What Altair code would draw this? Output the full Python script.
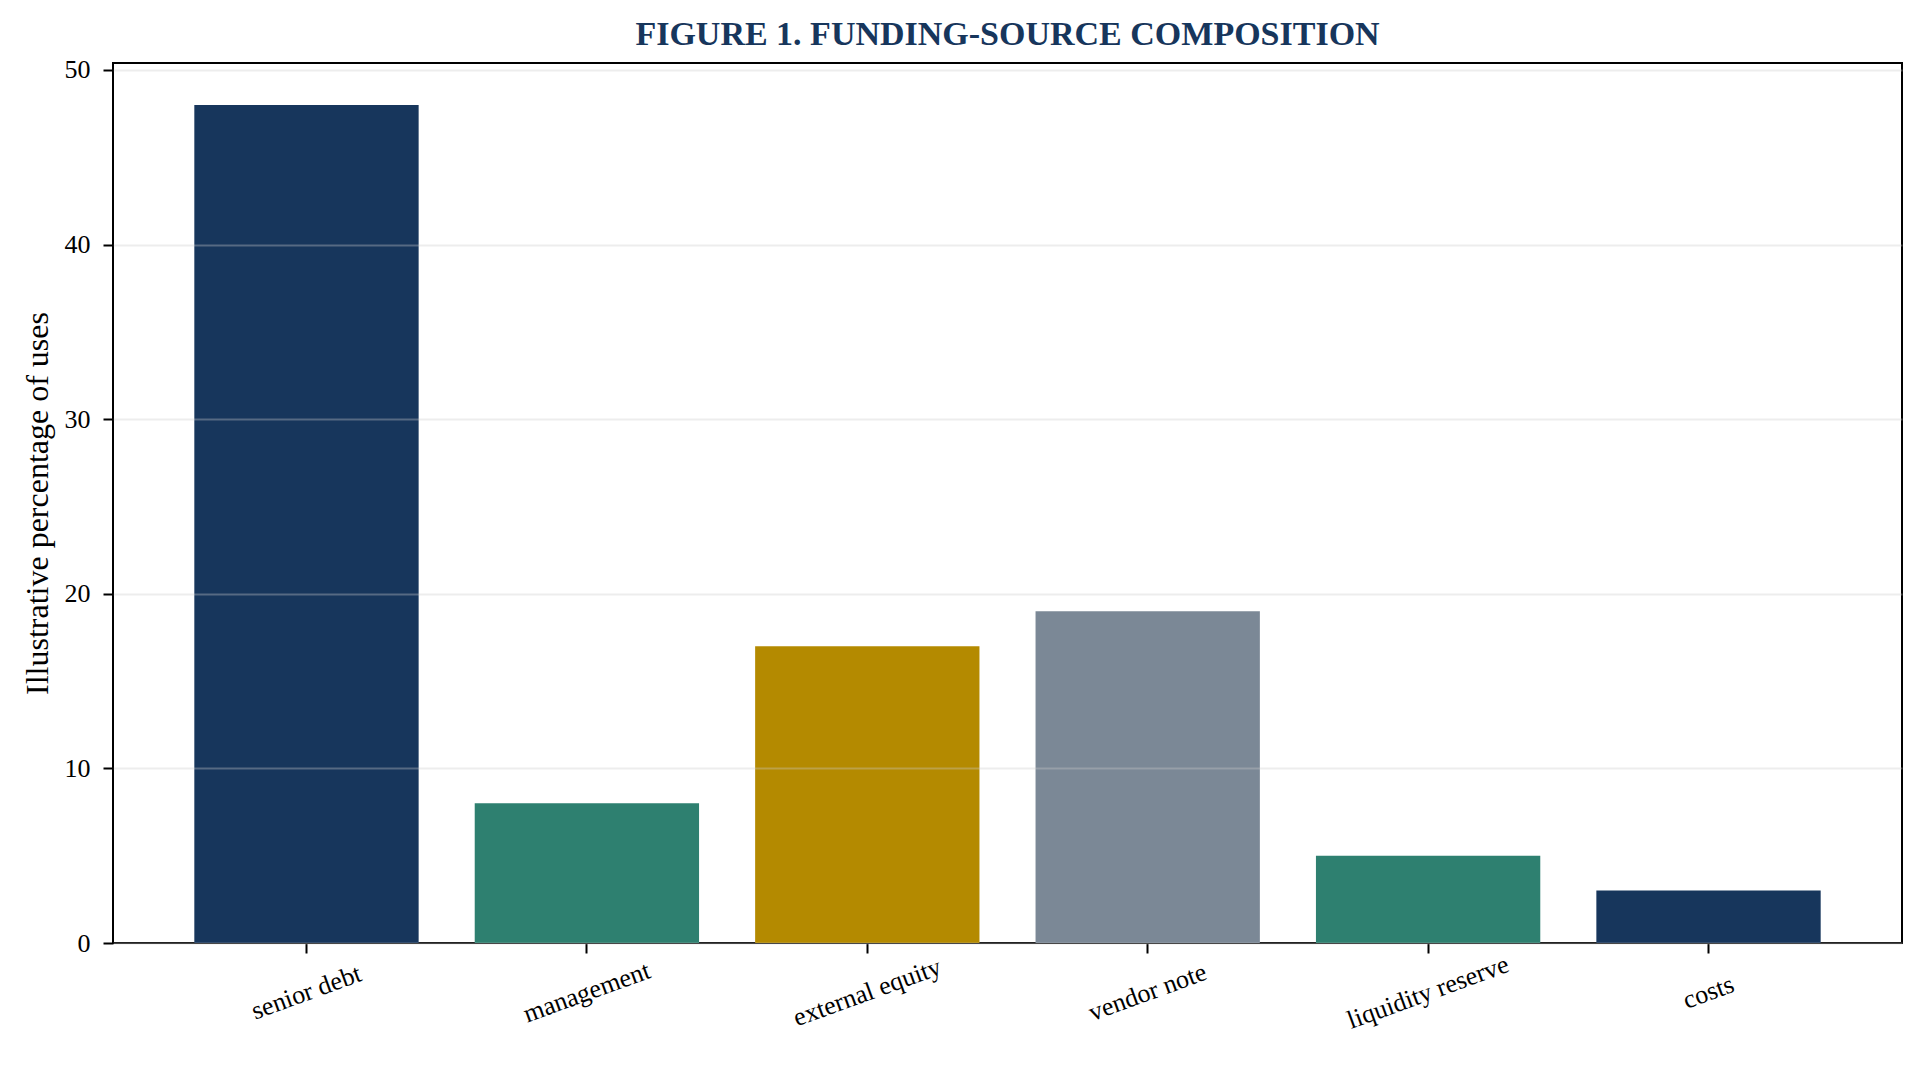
import altair as alt
import pandas as pd

sources = ["senior debt", "management", "external equity", "vendor note", "liquidity reserve", "costs"]
shares = [48, 8, 17, 19, 5, 3]
bar_colors = ["#17365c", "#2e8070", "#b48a00", "#7b8896", "#2e8070", "#17365c"]
y_ticks = [0, 10, 20, 30, 40, 50]

NAVY = "#17365c"
FONT = "Liberation Serif"

df = pd.DataFrame({"source": sources, "share": shares, "fill": bar_colors})

chart = alt.Chart(df).mark_bar().encode(
    x=alt.X("source:N", sort=sources, title=None,
            scale=alt.Scale(paddingInner=0.2, paddingOuter=0.29),
            axis=alt.Axis(labelAngle=340, labelAlign="center", labelBaseline="middle",
                          labelPadding=39, labelFontSize=26, tickSize=10, tickWidth=2,
                          tickColor="black", domain=False, grid=False, labelColor="black")),
    y=alt.Y("share:Q", title="Illustrative percentage of uses",
            scale=alt.Scale(domain=[0, 50.4], nice=False, zero=True),
            axis=alt.Axis(values=y_ticks, grid=True, gridColor="#cccccc", gridOpacity=0.35,
                          gridWidth=2, zindex=1, domain=False, tickSize=10, tickWidth=2,
                          tickColor="black", labelPadding=13, labelFontSize=26,
                          labelColor="black", titleFontSize=32, titleFontWeight="normal",
                          titleColor="black", titlePadding=10)),
    color=alt.Color("fill:N", scale=None),
).properties(
    width=1789,
    height=880,
    title=alt.Title("FIGURE 1. FUNDING-SOURCE COMPOSITION", fontSize=34, fontWeight="bold",
                    color=NAVY, font=FONT, anchor="middle", offset=5),
    autosize=alt.AutoSizeParams(type="none"),
    padding={"left": 105, "top": 55, "right": 14, "bottom": 129},
    background="white",
).configure(
    font=FONT,
).configure_view(
    stroke="black", strokeWidth=2,
).configure_axis(
    labelFont=FONT, titleFont=FONT,
)

chart.save("out.html", embed_options={"renderer": "svg", "actions": False})
